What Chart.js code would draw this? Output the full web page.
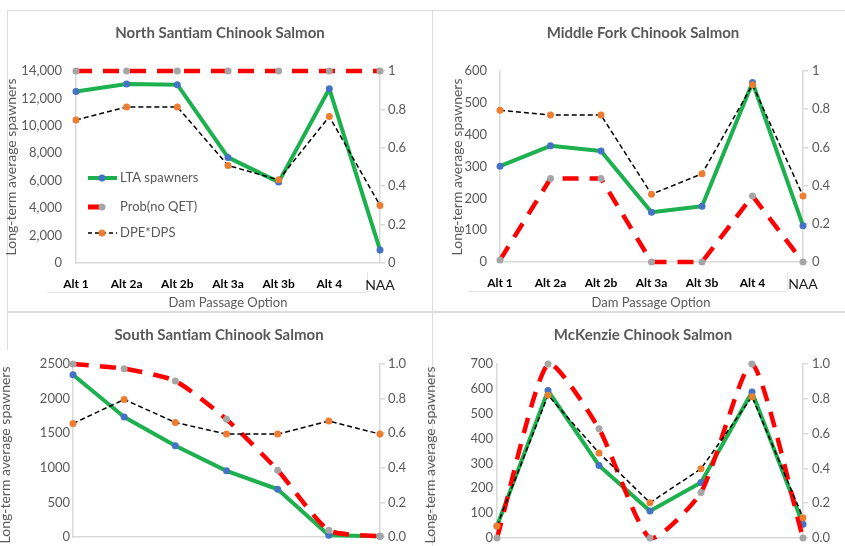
<!DOCTYPE html>
<html>
<head>
<meta charset="utf-8">
<script src="https://cdn.jsdelivr.net/npm/chart.js@4.4.1/dist/chart.umd.min.js"></script>
<style>
  html, body { margin: 0; padding: 0; background: #fff; overflow: hidden; }
  #page { position: relative; width: 845px; height: 546px; overflow: hidden; background: #fff; }
  .rule { position: absolute; background: #dcdcdc; }
  .under { position: absolute; background: #e4e4e4; }
  canvas { position: absolute; }
</style>
</head>
<body>
<div id="page">
  <!-- panel frames -->
  <div class="rule" style="left:7px;top:10px;width:838px;height:1px"></div>
  <div class="rule" style="left:7px;top:10px;width:1px;height:340px"></div>
  <div class="rule" style="left:432px;top:10px;width:1px;height:536px"></div>
  <div class="rule" style="left:7px;top:311px;width:838px;height:2px"></div>
  <!-- rules under the category rows -->
  <div class="under" style="left:47px;top:292px;width:320px;height:1px"></div>
  <div class="under" style="left:367px;top:272px;width:1px;height:20px"></div>
  <div class="under" style="left:468px;top:291px;width:319px;height:1px"></div>
  <div class="under" style="left:787px;top:272px;width:1px;height:19px"></div>

  <canvas id="north"  width="432" height="311" style="left:0;top:0"></canvas>
  <canvas id="middle" width="425" height="311" style="left:420px;top:0"></canvas>
  <canvas id="south"  width="432" height="300" style="left:0;top:311px"></canvas>
  <canvas id="mckenzie" width="425" height="300" style="left:420px;top:311px"></canvas>
</div>

<script>
// Dam passage alternatives
const categories = ['Alt 1', 'Alt 2a', 'Alt 2b', 'Alt 3a', 'Alt 3b', 'Alt 4', 'NAA'];

// North Santiam
const northLTA  = [12500, 13050, 13000, 7700, 5900, 12700, 950];
const northProb = [1, 1, 1, 1, 1, 1, 1];
const northDPE  = [0.745, 0.813, 0.813, 0.508, 0.433, 0.763, 0.30];

// Middle Fork
const middleLTA  = [301, 365, 349, 156, 175, 564, 114];
const middleProb = [0.01, 0.437, 0.437, 0, 0, 0.346, 0];
const middleDPE  = [0.794, 0.769, 0.769, 0.355, 0.462, 0.928, 0.346];

// South Santiam
const southLTA  = [2345, 1733, 1318, 956, 690, 25, 10];
const southProb = [1, 0.973, 0.902, 0.68, 0.386, 0.039, 0.004];
const southDPE  = [0.656, 0.795, 0.662, 0.595, 0.595, 0.67, 0.595];

// McKenzie
const mckLTA  = [48, 593, 292, 109, 223, 587, 55];
const mckProb = [0, 1, 0.628, 0, 0.262, 1, 0];
const mckDPE  = [0.069, 0.82, 0.489, 0.203, 0.398, 0.812, 0.117];

// Axis tick values
const northLeftTicks  = [0, 2000, 4000, 6000, 8000, 10000, 12000, 14000];
const middleLeftTicks = [0, 100, 200, 300, 400, 500, 600];
const southLeftTicks  = [0, 500, 1000, 1500, 2000, 2500];
const mckLeftTicks    = [0, 100, 200, 300, 400, 500, 600, 700];
const probTicks       = [0, 0.2, 0.4, 0.6, 0.8, 1];

const seriesNames = ['LTA spawners', 'Prob(no QET)', 'DPE*DPS'];
const yTitle = 'Long-term average spawners';
const xTitle = 'Dam Passage Option';

const FONT = 'Lato, "Open Sans", sans-serif';
const TEXT = '#595959';
const GREEN = '#1db04f';
const BLUE = '#4472c4';
const RED = '#ff0000';
const GREYDOT = '#a5a5a5';
const ORANGE = '#ed7d31';
const AXIS = '#d9d9d9';

function panel(id, s) {
  const canvas = document.getElementById(id);
  const W = canvas.width, H = canvas.height;

  const decor = {
    id: 'decor',
    afterDraw(chart) {
      const ctx = chart.ctx;
      ctx.save();
      ctx.fillStyle = TEXT;
      ctx.textAlign = 'center';
      ctx.textBaseline = 'middle';
      ctx.font = 'bold 15px ' + FONT;
      ctx.fillText(s.title, s.titlePos[0], s.titlePos[1]);

      ctx.save();
      ctx.translate(s.yTitlePos[0], s.yTitlePos[1]);
      ctx.rotate(-Math.PI / 2);
      ctx.font = '14px ' + FONT;
      ctx.fillText(yTitle, 0, 0);
      ctx.restore();

      if (s.xTitlePos) {
        ctx.font = '13px ' + FONT;
        ctx.fillText(xTitle, s.xTitlePos[0], s.xTitlePos[1]);
      }

      if (s.legend) {
        const [lx, rows] = [88, [178, 207, 233]];
        const dot = (x, y, c) => { ctx.beginPath(); ctx.arc(x, y, 3.5, 0, Math.PI * 2); ctx.fillStyle = c; ctx.fill(); };
        // LTA spawners
        ctx.setLineDash([]);
        ctx.strokeStyle = GREEN; ctx.lineWidth = 4;
        ctx.beginPath(); ctx.moveTo(lx, rows[0]); ctx.lineTo(lx + 29, rows[0]); ctx.stroke();
        dot(lx + 14, rows[0], BLUE);
        // Prob(no QET)
        ctx.strokeStyle = RED; ctx.lineWidth = 5;
        ctx.beginPath(); ctx.moveTo(lx, rows[1]); ctx.lineTo(lx + 12, rows[1]); ctx.stroke();
        dot(lx + 14, rows[1], GREYDOT);
        // DPE*DPS
        ctx.strokeStyle = '#000'; ctx.lineWidth = 1.5; ctx.setLineDash([4, 3]);
        ctx.beginPath(); ctx.moveTo(lx, rows[2]); ctx.lineTo(lx + 29, rows[2]); ctx.stroke();
        ctx.setLineDash([]);
        dot(lx + 14, rows[2], ORANGE);

        ctx.fillStyle = TEXT;
        ctx.textAlign = 'left';
        ctx.font = '13px ' + FONT;
        seriesNames.forEach((n, i) => ctx.fillText(n, lx + 32, rows[i]));
      }
      ctx.restore();
    }
  };

  const pt = { pointRadius: 3.5, pointHoverRadius: 3.5, pointBorderWidth: 0, clip: false };

  new Chart(canvas, {
    type: 'line',
    data: {
      labels: categories,
      datasets: [
        Object.assign({
          label: seriesNames[2], data: s.dpe, yAxisID: 'y1', order: 1,
          borderColor: '#000', borderWidth: 1.5, borderDash: [5, 3],
          pointBackgroundColor: ORANGE, tension: 0
        }, pt),
        Object.assign({
          label: seriesNames[1], data: s.prob, yAxisID: 'y1', order: 2,
          borderColor: RED, borderWidth: 4.5, borderDash: [16, 11], borderCapStyle: 'butt',
          pointBackgroundColor: GREYDOT, tension: s.smooth ? 0.2 : 0
        }, pt),
        Object.assign({
          label: seriesNames[0], data: s.lta, yAxisID: 'y', order: 3,
          borderColor: GREEN, borderWidth: 4, borderJoinStyle: 'round',
          pointBackgroundColor: BLUE, tension: 0
        }, pt)
      ]
    },
    options: {
      responsive: false,
      animation: false,
      devicePixelRatio: 1,
      layout: { padding: { top: s.area.t, left: 0, right: 0, bottom: 0 } },
      elements: { line: { capBezierPoints: false } },
      plugins: { legend: { display: false }, tooltip: { enabled: false }, title: { display: false } },
      scales: {
        x: {
          type: 'category', offset: false,
          grid: { display: false, drawTicks: false },
          border: { display: true, color: AXIS, width: 1.5 },
          ticks: {
            padding: 14, autoSkip: false, maxRotation: 0,
            color: (c) => c.index === 6 ? '#1a1a1a' : '#000',
            font: (c) => c.index === 6
              ? { family: FONT, size: 14, weight: 'normal' }
              : { family: FONT, size: 12, weight: 'bold' }
          },
          afterFit(sc) { sc.height = H - s.area.b; }
        },
        y: {
          position: 'left', min: s.leftTicks[0], max: s.leftTicks[s.leftTicks.length - 1],
          grid: { display: false, drawTicks: false },
          border: { display: true, color: AXIS, width: 1.5 },
          ticks: { padding: s.leftPad, color: TEXT, font: { family: FONT, size: 13 }, callback: s.leftFmt },
          afterBuildTicks(sc) { sc.ticks = s.leftTicks.map(v => ({ value: v })); },
          afterFit(sc) { sc.width = s.area.l; }
        },
        y1: {
          position: 'right', min: 0, max: 1,
          grid: { display: true, drawOnChartArea: false, drawTicks: true, tickLength: 5, color: AXIS, lineWidth: 1.5 },
          border: { display: true, color: AXIS, width: 1.5 },
          ticks: { padding: s.rightPad, color: TEXT, font: { family: FONT, size: 13 }, callback: s.rightFmt },
          afterBuildTicks(sc) { sc.ticks = probTicks.map(v => ({ value: v })); },
          afterFit(sc) { sc.width = W - s.area.r; }
        }
      }
    },
    plugins: [decor]
  });
}

const commas = (v) => v.toLocaleString('en-US');
const plain = (v) => String(v);
const oneDec = (v) => v.toFixed(1);

panel('north', {
  title: 'North Santiam Chinook Salmon', titlePos: [220, 33],
  yTitlePos: [11, 167], xTitlePos: [228, 303], legend: true,
  lta: northLTA, prob: northProb, dpe: northDPE,
  leftTicks: northLeftTicks, leftFmt: commas, rightFmt: plain,
  area: { l: 76, r: 380, t: 71, b: 263 }, leftPad: 14, rightPad: 3, smooth: false
});

panel('middle', {
  title: 'Middle Fork Chinook Salmon', titlePos: [223, 33],
  yTitlePos: [37, 167], xTitlePos: [231, 303], legend: false,
  lta: middleLTA, prob: middleProb, dpe: middleDPE,
  leftTicks: middleLeftTicks, leftFmt: plain, rightFmt: plain,
  area: { l: 80, r: 383, t: 71, b: 262 }, leftPad: 13, rightPad: 4, smooth: false
});

panel('south', {
  title: 'South Santiam Chinook Salmon', titlePos: [219, 24],
  yTitlePos: [5, 144], xTitlePos: null, legend: false,
  lta: southLTA, prob: southProb, dpe: southDPE,
  leftTicks: southLeftTicks, leftFmt: plain, rightFmt: oneDec,
  area: { l: 73, r: 380, t: 53, b: 226 }, leftPad: 3, rightPad: 3, smooth: true
});

panel('mckenzie', {
  title: 'McKenzie Chinook Salmon', titlePos: [223, 24],
  yTitlePos: [10, 144], xTitlePos: null, legend: false,
  lta: mckLTA, prob: mckProb, dpe: mckDPE,
  leftTicks: mckLeftTicks, leftFmt: plain, rightFmt: oneDec,
  area: { l: 77, r: 383, t: 53, b: 227 }, leftPad: 4, rightPad: 4, smooth: true
});
</script>
</body>
</html>
